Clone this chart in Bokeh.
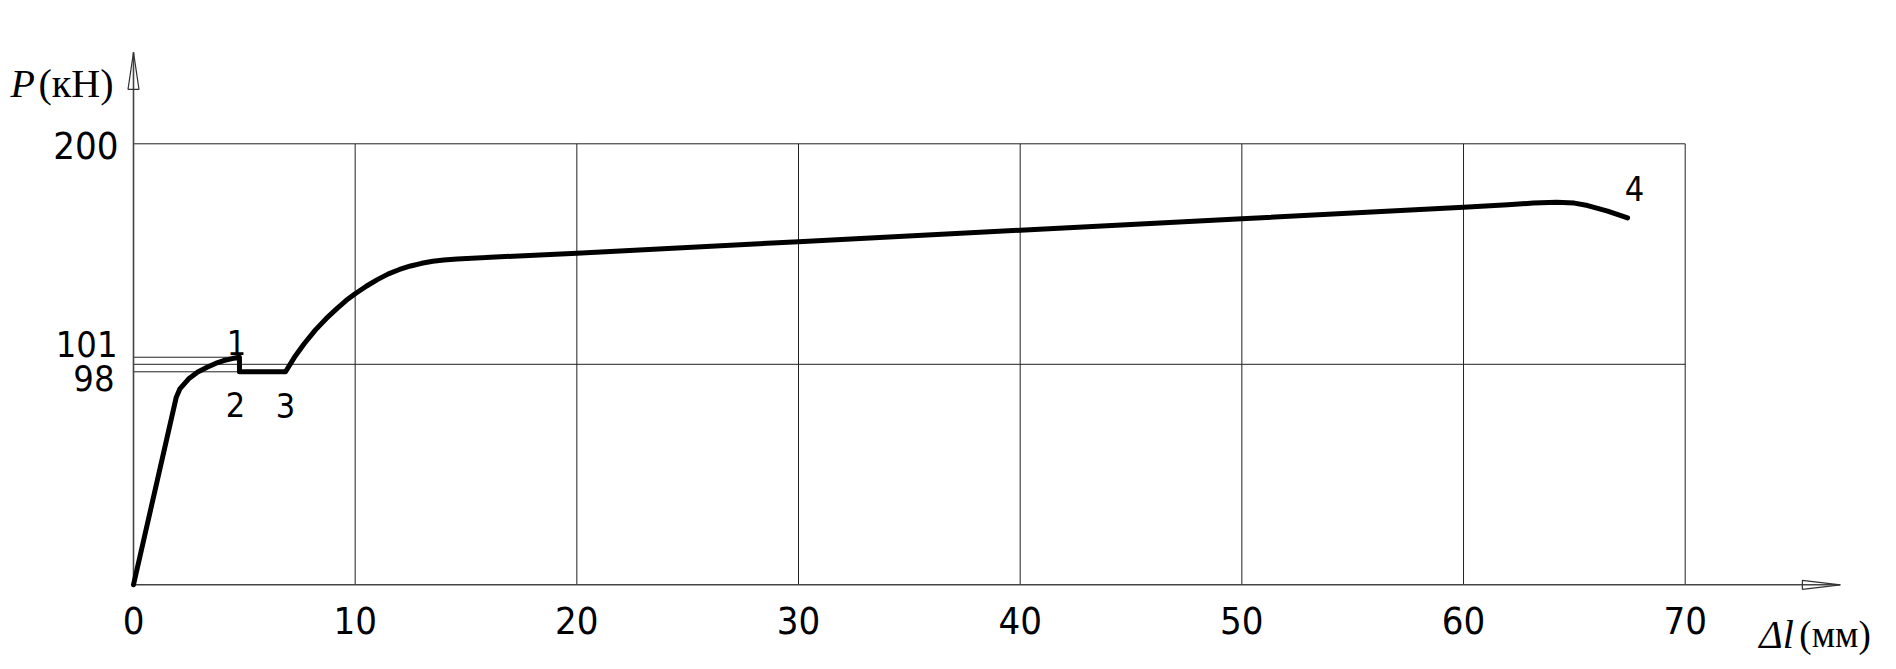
from bokeh.plotting import figure
from bokeh.models import Range1d
from bokeh.core.properties import value
from bokeh.embed import file_html
from bokeh.resources import INLINE

# ---- data ----
# elongation Δl (mm) and load P (kN)
dl = [0.0, 1.93, 2.1, 2.49, 2.9, 3.32, 3.7, 4.07, 4.45, 4.78,
      4.78, 6.86,
      7.3, 7.7, 8.2, 8.7, 9.2, 9.6, 10.0, 10.5, 11.0, 11.5, 12.0, 12.5, 13.0,
      13.5, 14.0, 14.6,
      20.0, 30.0, 40.0, 50.0, 60.0,
      62.0, 63.15, 64.2, 65.0, 65.6, 66.5, 67.4]
P = [0.0, 85.1, 89.0, 93.4, 96.5, 98.7, 100.4, 101.7, 102.6, 103.2,
     96.6, 96.6,
     103.8, 109.3, 115.5, 120.8, 125.5, 129.0, 132.0, 135.4, 138.4, 141.0, 143.0,
     144.6, 145.8, 146.7, 147.3, 147.8,
     150.4, 155.6, 160.8, 166.0, 171.2,
     172.4, 173.1, 173.5, 173.1, 172.0, 169.5, 166.4]

x_ticks = [0, 10, 20, 30, 40, 50, 60, 70]
x_tick_labels = ["0", "10", "20", "30", "40", "50", "60", "70"]
y_grid = [100, 200]
y_tick_labels = ["200", "101", "98"]

# labelled points on the curve: index into dl/P
pt_names = ["1", "2", "3", "4"]
pt_index = [9, 10, 11, len(dl) - 1]

X_MAX, Y_MAX = 70, 200
X_AXIS_END, Y_AXIS_END = 77.0, 241.5

NARROW = value("DejaVu Sans Condensed")
SERIF = value("Liberation Serif")

W, H = 1890, 663
px_x = 22.167   # pixels per mm
px_y = 2.205    # pixels per kN
x0 = -133.0 / px_x
y0 = -(H - 584.3) / px_y
p = figure(width=W, height=H, output_backend="svg", toolbar_location=None,
           x_range=Range1d(x0, x0 + W / px_x), y_range=Range1d(y0, y0 + H / px_y),
           x_axis_location=None, y_axis_location=None, min_border=0)
p.grid.visible = False
p.outline_line_color = None
p.background_fill_color = "white"

# grid (limited to data box)
grid_x = [t for t in x_ticks if t > 0]
p.segment(x0=grid_x, y0=[0] * len(grid_x), x1=grid_x, y1=[Y_MAX] * len(grid_x),
          line_color="#222222", line_width=1)
p.segment(x0=[0] * len(y_grid), y0=y_grid, x1=[X_MAX] * len(y_grid), y1=y_grid,
          line_color="#222222", line_width=1)

# yield reference lines
peak_i, plat_i = pt_index[0], pt_index[1]
p.segment(x0=[0, 0], y0=[P[peak_i], P[plat_i]], x1=[dl[peak_i], dl[plat_i]],
          y1=[P[peak_i], P[plat_i]], line_color="#222222", line_width=1)

# axes with arrows
p.segment(x0=[0, 0], y0=[0, 0], x1=[X_AXIS_END, 0], y1=[0, Y_AXIS_END],
          line_color="#444444", line_width=1.6)
ahx_len, ahx_w = 38 / px_x, 4.5 / px_y
p.patch([X_AXIS_END, X_AXIS_END - ahx_len, X_AXIS_END - ahx_len],
        [0, ahx_w, -ahx_w], fill_alpha=0, line_color="#333333", line_width=1.2)
ahy_len, ahy_w = 37 / px_y, 5.5 / px_x
p.patch([0, ahy_w, -ahy_w], [Y_AXIS_END, Y_AXIS_END - ahy_len, Y_AXIS_END - ahy_len],
        fill_alpha=0, line_color="#333333", line_width=1.2)

# curve
p.line(dl, P, line_color="black", line_width=5, line_join="round", line_cap="round")

# x tick labels
p.text(x=x_ticks, y=[0] * len(x_ticks), text=x_tick_labels,
       text_font=NARROW, text_font_size="38px", text_align="center",
       text_baseline="middle", y_offset=36, text_color="black")

# y tick labels
p.text(x=[0], y=[Y_MAX], text=[y_tick_labels[0]], text_font=NARROW,
       text_font_size="38px", text_align="right", text_baseline="middle",
       x_offset=-15, y_offset=2, text_color="black")
p.text(x=[0], y=[P[peak_i]], text=[y_tick_labels[1]], text_font=NARROW,
       text_font_size="36px", text_align="right", text_baseline="middle",
       x_offset=-16, y_offset=-13, text_color="black")
p.text(x=[0], y=[P[plat_i]], text=[y_tick_labels[2]], text_font=NARROW,
       text_font_size="36px", text_align="right", text_baseline="middle",
       x_offset=-19, y_offset=6, text_color="black")

# point labels
offs_x = [-3, -4, 0, 7]
offs_y = [-15, 33, 34, -29]
for name, i, ox, oy in zip(pt_names, pt_index, offs_x, offs_y):
    p.text(x=[dl[i]], y=[P[i]], text=[name], text_font=NARROW,
           text_font_size="34px", text_align="center", text_baseline="middle",
           x_offset=ox, y_offset=oy, text_color="black")

# axis titles
p.text(x=[0], y=[Y_AXIS_END], text=["P"], text_font=SERIF, text_font_style="italic",
       text_font_size="40px", text_align="left", text_baseline="alphabetic",
       x_offset=-123, y_offset=31, text_color="black")
p.text(x=[0], y=[Y_AXIS_END], text=["(кН)"], text_font=SERIF,
       text_font_size="40px", text_align="left", text_baseline="alphabetic",
       x_offset=-95, y_offset=31, text_color="black")
p.text(x=[X_AXIS_END], y=[0], text=["Δl"], text_font=SERIF, text_font_style="italic",
       text_font_size="40px", text_align="left", text_baseline="alphabetic",
       x_offset=-81, y_offset=50, text_color="black")
p.text(x=[X_AXIS_END], y=[0], text=["(мм)"], text_font=SERIF,
       text_font_size="37px", text_align="left", text_baseline="alphabetic",
       x_offset=-41, y_offset=50, text_color="black")

open("out.html", "w").write(file_html(p, INLINE))
